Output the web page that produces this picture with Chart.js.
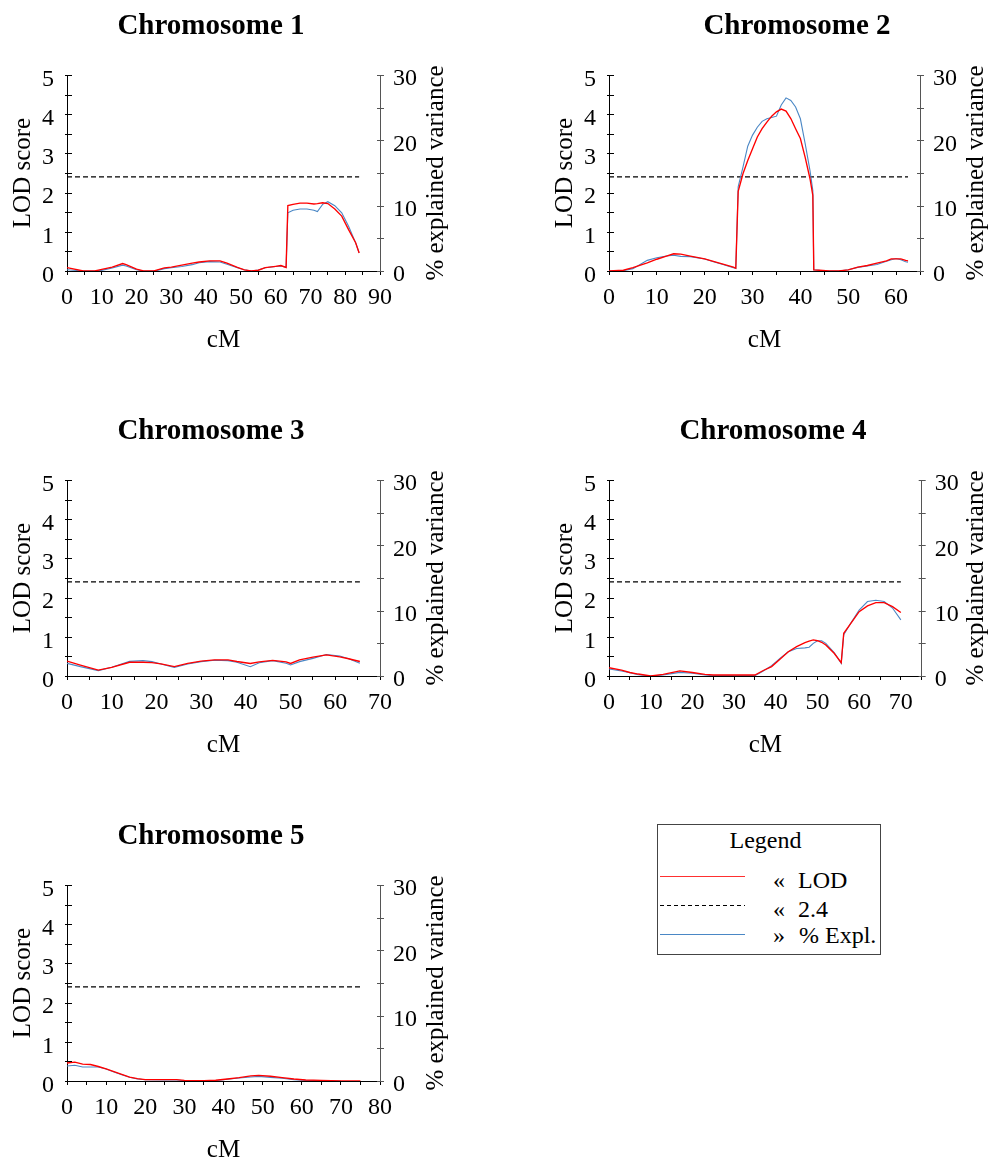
<!DOCTYPE html>
<html>
<head>
<meta charset="utf-8">
<script src="https://cdn.jsdelivr.net/npm/chart.js@4.4.0/dist/chart.umd.min.js"></script>
<style>
  html,body{margin:0;padding:0;background:#fff;}
  body{width:993px;height:1163px;position:relative;overflow:hidden;}
  .panel{position:absolute;}
  #legend{position:absolute;left:657px;top:824px;}
</style>
</head>
<body>
<div class="panel" style="left:0px;top:0px;"><canvas id="c1"></canvas></div>
<div class="panel" style="left:542px;top:0px;"><canvas id="c2"></canvas></div>
<div class="panel" style="left:0px;top:405px;"><canvas id="c3"></canvas></div>
<div class="panel" style="left:542px;top:405px;"><canvas id="c4"></canvas></div>
<div class="panel" style="left:0px;top:810px;"><canvas id="c5"></canvas></div>

<svg id="legend" width="226" height="133" xmlns="http://www.w3.org/2000/svg" font-family="Liberation Serif, Times New Roman, serif">
  <rect x="0.5" y="0.5" width="223" height="130" fill="#fff" stroke="#444" stroke-width="1"/>
  <text x="108.5" y="24" font-size="24" text-anchor="middle" fill="#000">Legend</text>
  <line x1="3" y1="52.5" x2="88" y2="52.5" stroke="#ff3030" stroke-width="1.2"/>
  <line x1="3" y1="81.5" x2="88" y2="81.5" stroke="#000" stroke-width="1" stroke-dasharray="4 3"/>
  <line x1="3" y1="110.5" x2="88" y2="110.5" stroke="#4a87c5" stroke-width="1.2"/>
  <text x="116" y="64" font-size="24" fill="#000">«</text>
  <text x="141" y="64" font-size="24" fill="#000">LOD</text>
  <text x="116" y="92.5" font-size="24" fill="#000">«</text>
  <text x="141" y="92.5" font-size="24" fill="#000">2.4</text>
  <text x="116" y="119" font-size="24" fill="#000">»</text>
  <text x="142" y="119" font-size="24" fill="#000">% Expl.</text>
</svg>

<script>
// ---------------- data ----------------
const chr1Pos = [0,4.7,8,10,13,16,17,20,22,25,26,28,30,33,36,38,41,44,46,49,51,53,55,57,60,61.5,63,63.5,65,67,69,71,72,73.5,75,77,79,81,83,84];
const chr1Lod = [0.085,0,0,0.04,0.1,0.19,0.16,0.05,0,0,0.03,0.08,0.1,0.15,0.2,0.23,0.26,0.26,0.2,0.09,0.03,0,0.02,0.085,0.12,0.14,0.09,1.67,1.7,1.73,1.73,1.71,1.72,1.74,1.72,1.58,1.40,1.05,0.72,0.46];
const chr1Pve = [0.2,0,0,0.1,0.46,0.9,0.77,0.2,0,0,0.1,0.36,0.5,0.7,0.97,1.27,1.43,1.38,1.02,0.5,0.2,0,0.15,0.5,0.7,0.77,0.56,8.9,9.3,9.5,9.5,9.3,9.1,10.2,10.6,10.0,8.9,6.8,4.3,2.8];

const chr2Pos = [0,3,5,8,10,12,13.5,15,17,20,22,24,26,26.5,27,28,29,30,31,32,33,34,35,36,37,38,39,40,41,42,42.6,42.8,44,46,48,50,52,54,56,58,59,60,61,62,62.5];
const chr2Lod = [0,0.02,0.085,0.21,0.3,0.38,0.44,0.43,0.38,0.31,0.24,0.17,0.1,0.07,2.03,2.48,2.82,3.12,3.42,3.63,3.8,3.95,4.06,4.13,4.08,3.89,3.63,3.38,2.9,2.36,1.93,0.03,0.02,0,0,0.03,0.1,0.14,0.2,0.26,0.31,0.31,0.31,0.27,0.26];
const chr2Pve = [0,0.05,0.36,1.63,2.04,2.3,2.4,2.24,2.2,1.84,1.38,0.97,0.51,0.4,12.9,15.9,19.1,20.8,22.0,22.9,23.3,23.5,23.7,25.4,26.5,26.1,25.1,23.3,19.5,15.4,12.3,0.2,0.1,0,0,0.2,0.56,0.77,1.0,1.48,1.73,1.9,1.73,1.43,1.33];

const chr3Pos = [0,3,7,10,14,17,19,21,24,27,30,33,36,38,41,43,46,49,50,52,55,58,61,63,65.5];
const chr3Lod = [0.38,0.28,0.15,0.22,0.35,0.35,0.34,0.31,0.24,0.32,0.38,0.41,0.41,0.37,0.32,0.36,0.4,0.36,0.32,0.41,0.48,0.54,0.49,0.44,0.37];
const chr3Pve = [1.94,1.43,0.82,1.33,2.24,2.35,2.2,1.84,1.33,1.84,2.2,2.4,2.35,2.1,1.43,2.04,2.35,1.94,1.68,2.2,2.7,3.3,3.06,2.65,1.94];

const chr4Pos = [0,3,5,7,10,13,15,17,20,23,25,30,35,37,39,41,43,45,47,48,49,50,51,52,54,55.7,56.3,58,60,62,64,66,68,70];
const chr4Lod = [0.21,0.15,0.09,0.05,0,0.04,0.085,0.13,0.09,0.04,0.025,0.025,0.025,0.14,0.24,0.43,0.62,0.75,0.85,0.89,0.92,0.9,0.86,0.79,0.58,0.34,1.09,1.34,1.64,1.79,1.87,1.87,1.77,1.62];
const chr4Pve = [1.07,0.77,0.51,0.2,0,0.15,0.36,0.56,0.41,0.15,0.05,0.05,0.05,0.77,1.58,2.7,3.7,4.2,4.3,4.4,5.0,5.4,5.4,5.0,3.6,1.94,6.3,8.1,10.1,11.4,11.6,11.4,10.4,8.6];

const chr5Pos = [0,2,4,6,8,10,12,14,16,18,20,25,28,30,35,38,41,44,47,49,52,55,58,61,65,70,75];
const chr5Lod = [0.46,0.48,0.43,0.42,0.37,0.31,0.24,0.17,0.1,0.06,0.034,0.034,0.034,0.017,0.01,0.02,0.05,0.085,0.13,0.145,0.12,0.085,0.05,0.025,0.017,0,0];
const chr5Pve = [2.3,2.4,2.14,2.14,2.14,1.84,1.38,0.97,0.56,0.31,0.2,0.15,0.15,0.05,0,0.05,0.26,0.46,0.61,0.71,0.56,0.41,0.2,0.1,0.05,0,null];

const chromosomeNames = ['Chromosome 1','Chromosome 2','Chromosome 3','Chromosome 4','Chromosome 5'];
const chromosomeLength = [84, 62.5, 65.5, 70, 75.3];
const cMAxisMax = [90, 65, 70, 75, 80];
const lodThreshold = 2.4;
const lodAxisMax = 5;
const pveAxisMax = 30;

// ---------------- layout ----------------
const FONT = '"Liberation Serif", "Times New Roman", serif';
const H = 385;
const panels = [
  {id:'c1', i:0, pos:chr1Pos, lod:chr1Lod, pve:chr1Pve, w:480, right:380,   titleX:211, rtX:436},
  {id:'c2', i:1, pos:chr2Pos, lod:chr2Lod, pve:chr2Pve, w:451, right:378,   titleX:255, rtX:434.6},
  {id:'c3', i:2, pos:chr3Pos, lod:chr3Lod, pve:chr3Pve, w:480, right:380,   titleX:211, rtX:436},
  {id:'c4', i:3, pos:chr4Pos, lod:chr4Lod, pve:chr4Pve, w:451, right:379.7, titleX:231, rtX:434.6},
  {id:'c5', i:4, pos:chr5Pos, lod:chr5Lod, pve:chr5Pve, w:480, right:380,   titleX:211, rtX:436}
];

const decor = {
  id:'decor',
  afterDraw(chart, args, o){
    const ctx = chart.ctx, a = chart.chartArea;
    const y = chart.scales.y, y2 = chart.scales.y2;
    ctx.save();
    ctx.lineWidth = 1;
    ctx.strokeStyle = '#000';
    for (let k = 0; k <= 10; k++){
      const py = Math.round(y.getPixelForValue(k*0.5)) + 0.5;
      ctx.beginPath(); ctx.moveTo(a.left - 2, py); ctx.lineTo(a.left + 5, py); ctx.stroke();
    }
    ctx.strokeStyle = '#555';
    for (let k = 0; k <= 6; k++){
      const py = Math.round(y2.getPixelForValue(k*5)) + 0.5;
      ctx.beginPath(); ctx.moveTo(a.right - 3, py); ctx.lineTo(a.right + 4, py); ctx.stroke();
    }
    ctx.fillStyle = '#000';
    ctx.font = 'bold 29px ' + FONT;
    ctx.textAlign = 'center';
    ctx.textBaseline = 'alphabetic';
    ctx.fillText(o.title, o.titleX, 33.5);
    ctx.font = '25px ' + FONT;
    ctx.translate(o.rtX, (a.top + a.bottom) / 2);
    ctx.rotate(-Math.PI / 2);
    ctx.textBaseline = 'middle';
    ctx.fillText('% explained variance', 0, 0);
    ctx.restore();
  }
};

const isMult = (v, m) => Math.abs(v / m - Math.round(v / m)) < 1e-6;

panels.forEach(p => {
  const cv = document.getElementById(p.id);
  cv.width = p.w; cv.height = H;
  cv.style.width = p.w + 'px'; cv.style.height = H + 'px';
  const pts = (xs, ys) => xs.map((x, k) => ({x: x, y: ys[k]}));
  new Chart(cv, {
    type: 'line',
    data: {
      datasets: [
        {label:'2.4', data:[{x:0, y:lodThreshold}, {x:chromosomeLength[p.i], y:lodThreshold}], yAxisID:'y',
         borderColor:'#000', borderWidth:1.15, borderDash:[5,3], pointRadius:0, tension:0, order:3},
        {label:'% Expl.', data:pts(p.pos, p.pve), yAxisID:'y2', borderColor:'#4a87c5', borderWidth:1.1,
         pointRadius:0, tension:0, order:2, spanGaps:false},
        {label:'LOD', data:pts(p.pos, p.lod), yAxisID:'y', borderColor:'#ff0000', borderWidth:1.35,
         pointRadius:0, tension:0, order:1}
      ]
    },
    options: {
      responsive:false, animation:false, events:[],
      layout:{padding:{left:0, top:75, right:0, bottom:0}},
      plugins:{
        legend:{display:false}, title:{display:false}, tooltip:{enabled:false},
        decor:{title:chromosomeNames[p.i], titleX:p.titleX, rtX:p.rtX}
      },
      scales:{
        x:{
          type:'linear', position:'bottom', min:0, max:cMAxisMax[p.i],
          afterFit: s => { s.height = H - 271; },
          border:{display:true, color:'#000', width:1},
          grid:{display:true, drawOnChartArea:false, drawTicks:true, tickLength:4, color:'#000'},
          ticks:{stepSize:5, autoSkip:false, maxRotation:0, padding:8, color:'#000',
                 font:{family:FONT, size:24},
                 callback: v => isMult(v, 10) ? String(v) : ''},
          title:{display:true, text:'cM', color:'#000', font:{family:FONT, size:25}, padding:{top:0, bottom:30}}
        },
        y:{
          type:'linear', position:'left', min:0, max:lodAxisMax,
          afterFit: s => { s.width = 67; },
          border:{display:true, color:'#000', width:1},
          grid:{display:false},
          ticks:{stepSize:0.5, autoSkip:false, padding:5, labelOffset:4.5, color:'#000',
                 font:{family:FONT, size:24},
                 callback: v => isMult(v, 1) ? String(Math.round(v)) : ''},
          title:{display:true, text:'LOD score', color:'#000', font:{family:FONT, size:25}, padding:{top:8, bottom:0}}
        },
        y2:{
          type:'linear', position:'right', min:0, max:pveAxisMax,
          afterFit: s => { s.width = p.w - p.right; },
          border:{display:true, color:'#555', width:1},
          grid:{display:false},
          ticks:{stepSize:5, autoSkip:false, padding:5, labelOffset:4, color:'#000',
                 font:{family:FONT, size:24},
                 callback: v => isMult(v, 10) ? String(Math.round(v)) : ''}
        }
      }
    },
    plugins:[decor]
  });
});
</script>
</body>
</html>
